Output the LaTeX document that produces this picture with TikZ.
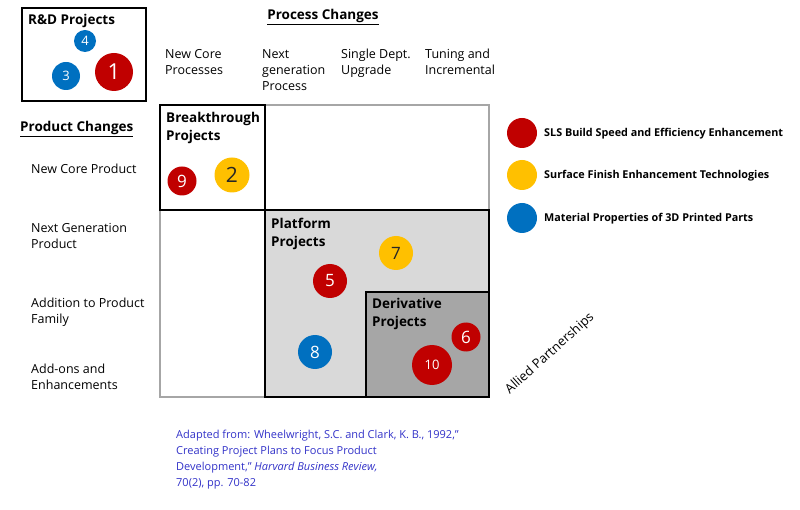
\documentclass[tikz,border=0pt]{standalone}
\usepackage{fontspec}
\setmainfont{Open Sans}
\definecolor{cred}{HTML}{C00000}
\definecolor{cyel}{HTML}{FFC000}
\definecolor{cblu}{HTML}{0070C0}
\definecolor{gridgray}{HTML}{A6A6A6}
\definecolor{platgray}{HTML}{D9D9D9}
\definecolor{derivgray}{HTML}{A6A6A6}
\definecolor{cite}{HTML}{3232C8}
\begin{document}
\begin{tikzpicture}[x=1pt,y=-1pt,
  lbl/.style={anchor=north west,inner sep=0pt,align=left,font=\fontsize{12.5}{16}\selectfont},
  hdr/.style={anchor=north west,inner sep=0pt,align=left,font=\fontsize{13.5}{18}\selectfont\bfseries},
  bub/.style={circle,inner sep=0pt,text=white,font=\fontsize{17}{17}\selectfont},
  leg/.style={anchor=west,inner sep=0pt,font=\fontsize{10.8}{13}\selectfont\bfseries},
  citet/.style={anchor=north west,inner sep=0pt,align=left,text=cite,font=\fontsize{11}{16}\selectfont}]
\useasboundingbox (0,0) rectangle (800,510);
% R&D box
\draw[line width=1.4pt] (22,8) rectangle (146,101);
\node[hdr] (rdt) at (28,14) {R\&D Projects};
\node[bub,fill=cblu,minimum size=22pt,font=\fontsize{13}{13}\selectfont] (c4) at (85,41) {4};
\node[bub,fill=cblu,minimum size=28pt,font=\fontsize{13}{13}\selectfont] (c3) at (66,76) {3};
\node[bub,fill=cred,minimum size=38pt,font=\fontsize{22}{22}\selectfont] (c1) at (114,72) {1};
% headings
\node[anchor=center,inner sep=0pt,font=\fontsize{13.5}{18}\selectfont\bfseries] (pc) at (323,17) {\underline{Process Changes}};
\node[hdr] (prc) at (20,121) {\underline{Product Changes}};
% column labels
\node[lbl] (col1) at (165,49) {New Core\\Processes};
\node[lbl] (col2) at (262,49) {Next\\generation\\Process};
\node[lbl] (col3) at (341,49) {Single Dept.\\Upgrade};
\node[lbl] (col4) at (425,49) {Tuning and\\Incremental};
% row labels
\node[lbl] (row1) at (31,164) {New Core Product};
\node[lbl] (row2) at (31,223) {Next Generation\\Product};
\node[lbl] (row3) at (31,298) {Addition to Product\\Family};
\node[lbl] (row4) at (31,364) {Add-ons and\\Enhancements};
% grid
\draw[gridgray,line width=1.4pt] (160,105) rectangle (489,397);
\draw[line width=1.4pt] (160,105) rectangle (265,210);
\draw[line width=1.4pt,fill=platgray] (265,210) rectangle (489,397);
\draw[line width=1.4pt,fill=derivgray] (366,292) rectangle (489,397);
\node[hdr] (bt) at (166,112) {Breakthrough\\Projects};
\node[hdr] (pt) at (271,218) {Platform\\Projects};
\node[hdr] (dt) at (372,298) {Derivative\\Projects};
% bubbles
\node[bub,fill=cred,minimum size=29pt] (c9) at (182,181) {9};
\node[bub,fill=cyel,minimum size=35pt,text=black!85,font=\fontsize{21}{21}\selectfont] (c2) at (232,175) {2};
\node[bub,fill=cyel,minimum size=34pt,text=black!85] (c7) at (396,253) {7};
\node[bub,fill=cred,minimum size=34pt] (c5) at (330,281) {5};
\node[bub,fill=cblu,minimum size=34pt] (c8) at (315,352) {8};
\node[bub,fill=cred,minimum size=29pt] (c6) at (466,337) {6};
\node[bub,fill=cred,minimum size=40pt,font=\fontsize{13}{13}\selectfont] (c10) at (432,365) {10};
% legend
\node[circle,fill=cred,minimum size=30pt,inner sep=0pt] (l1) at (522,133) {};
\node[circle,fill=cyel,minimum size=30pt,inner sep=0pt] (l2) at (522,175) {};
\node[circle,fill=cblu,minimum size=30pt,inner sep=0pt] (l3) at (522,218) {};
\node[leg] (lt1) at (544,134) {SLS Build Speed and Efficiency Enhancement};
\node[leg] (lt2) at (544,176) {Surface Finish Enhancement Technologies};
\node[leg] (lt3) at (544,219) {Material Properties of 3D Printed Parts};
% allied
\node[rotate=42,anchor=south west,inner sep=0pt,font=\fontsize{13}{13}\selectfont] (ap) at (512,397) {Allied Partnerships};
% citation
\node[citet] (cit) at (176,430) {Adapted from: Wheelwright, S.C. and Clark, K. B., 1992,''\\Creating Project Plans to Focus Product\\Development,'' \textit{Harvard Business Review,}\\70(2), pp. 70-82};
\end{tikzpicture}
\end{document}
